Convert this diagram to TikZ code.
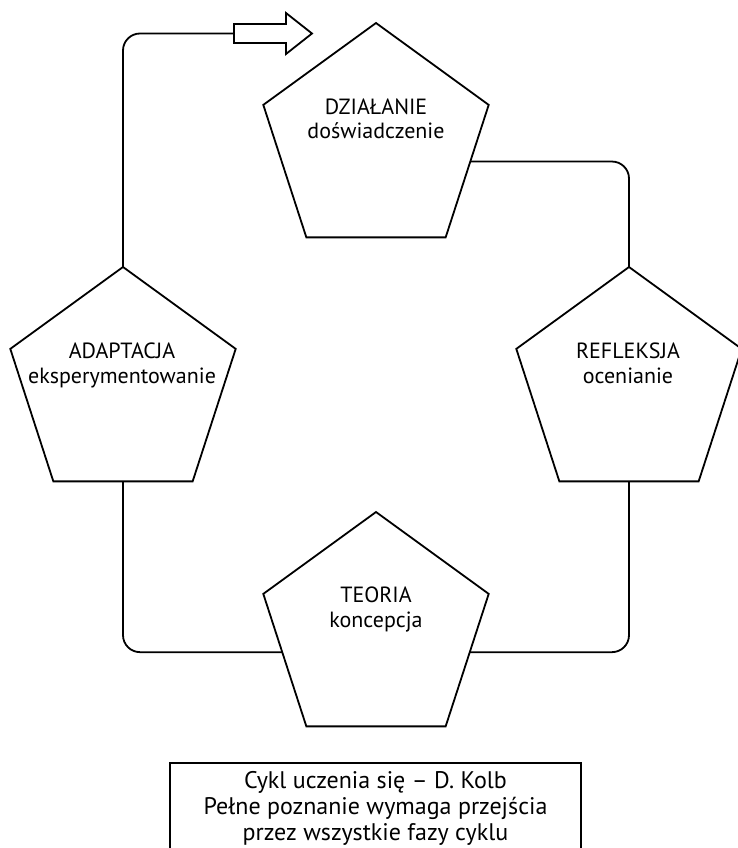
\documentclass[tikz,border=0pt]{standalone}
\usepackage{fontspec}
\setmainfont{PT Sans}
\usetikzlibrary{shapes.geometric}
\begin{document}
\begin{tikzpicture}[x=1pt,y=-1pt,
  line width=1.8pt, line join=miter,
  penta/.style={draw, regular polygon, regular polygon sides=5, minimum size=237pt, inner sep=0pt, outer sep=0pt},
  lbl/.style={align=center, anchor=base, font=\fontsize{22}{24.5}\selectfont, inner sep=0pt},
  link/.style={rounded corners=17pt}]
\clip (0,0) rectangle (738,848);
\useasboundingbox (0,0) rectangle (738,848);
\fill[white] (0,0) rectangle (738,848);
% pentagons
\node[penta] (dz) at (376,141.5) {};
\node[penta] (ad) at (123,385.5) {};
\node[penta] (re) at (629,385.5) {};
\node[penta] (te) at (376,630.5) {};
% labels (anchor base = baseline of last line)
\node[lbl] (dzt) at (376,139) {DZIAŁANIE\\doświadczenie};
\node[lbl] (adt) at (122,383) {ADAPTACJA\\eksperymentowanie};
\node[lbl] (ret) at (628,383) {REFLEKSJA\\ocenianie};
\node[lbl] (tet) at (376,627) {TEORIA\\koncepcja};
% block arrow
\coordinate (arr) at (234,33.5);
\draw (234,24) -- (286,24) -- (286,13) -- (312,33.5) -- (286,54) -- (286,43) -- (234,43) -- cycle;
% connectors
\draw[link] (ad.corner 1) |- (arr);
\draw[link] (dz.-12.6) -| (re.corner 1);
\draw[link] (re.south) |- (te.-13.4);
\draw[link] (te.193.4) -| (ad.south);
% caption
\node[draw, minimum width=411pt, minimum height=130pt, anchor=north, inner sep=0pt] (cap) at (375.5,762) {};
\node[align=center, anchor=base, font=\fontsize{24}{26}\selectfont, inner sep=0pt] (capt) at (375.5,840) {Cykl uczenia się – D. Kolb\\Pełne poznanie wymaga przejścia\\przez wszystkie fazy cyklu};
\end{tikzpicture}
\end{document}
